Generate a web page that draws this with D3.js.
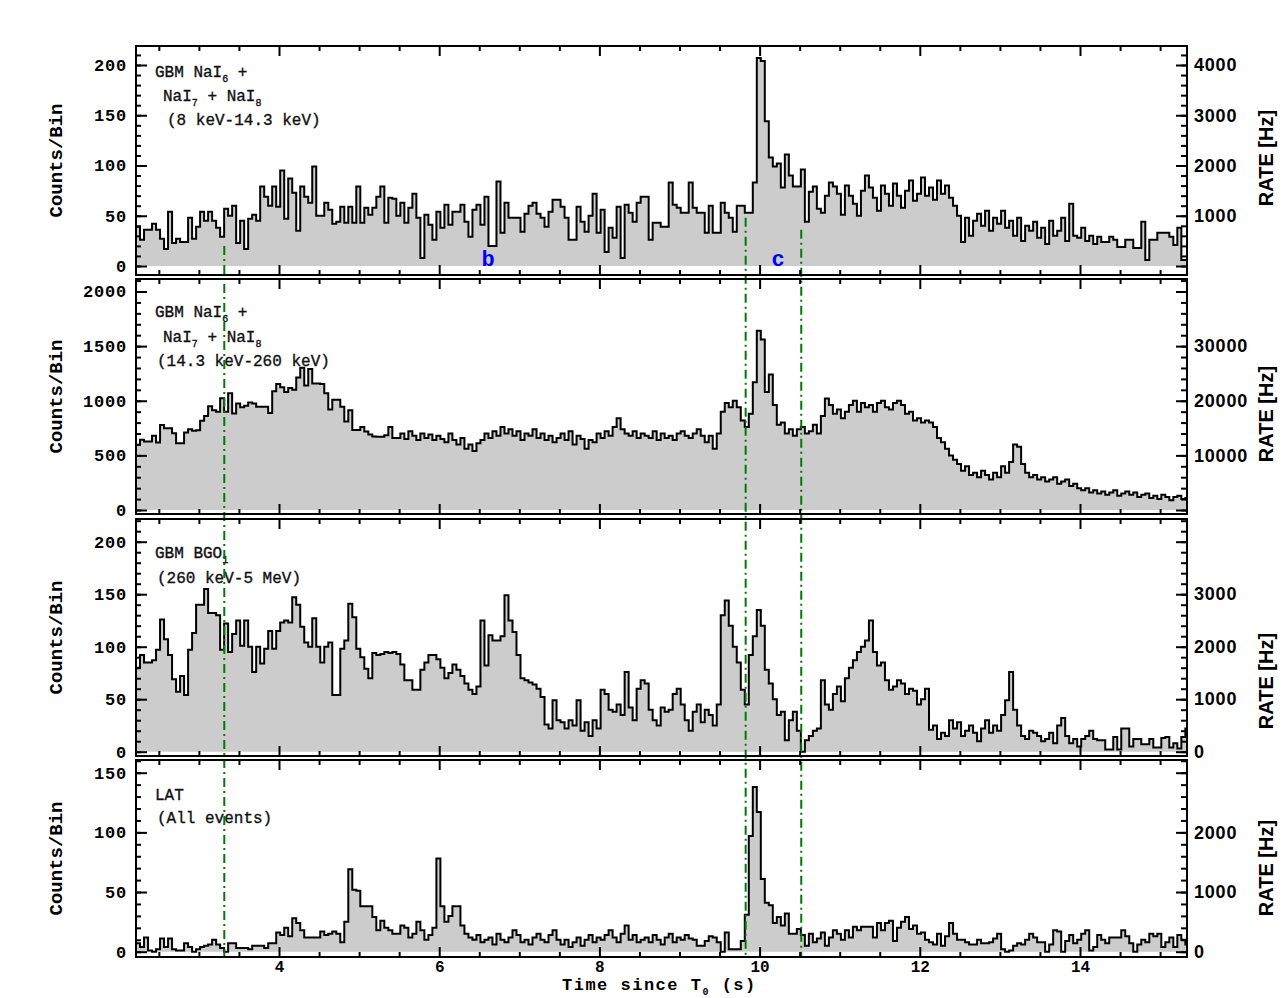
<!DOCTYPE html>
<html lang="en">
<head>
<meta charset="UTF-8">
<script src="https://d3js.org/d3.v7.min.js"></script>
<title>Light curves</title>
<style>
  body { margin: 0; background: #fff; }
  .note { font-family: "Liberation Mono", monospace; font-size: 16px; fill: #111; stroke: #111; stroke-width: 0.35px; }
  .ytitle { font-family: "Liberation Mono", monospace; font-size: 19px; font-weight: bold; }
  .rtitle { font-family: "Liberation Sans", Arial, sans-serif; font-size: 20px; font-weight: bold; }
  .xtitle { font-family: "Liberation Mono", monospace; font-size: 17px; font-weight: bold; letter-spacing: 1.5px; }
  .tag { font-family: "Liberation Mono", monospace; font-size: 22px; font-weight: bold; fill: #0000ff; }
</style>
</head>
<body>
<svg id="chart" width="1285" height="998"></svg>
<script>
// time bins (s since T0)
const binStart = 2.215;
const binWidth = 0.05;

// counts per bin, one row = 20 bins = 1 s
const naiLowCounts = [
  39, 26, 36, 36, 42, 36, 27, 17, 54, 23, 27, 24, 24, 48, 27, 39, 54, 45, 54, 45,
  38, 29, 57, 50, 60, 23, 45, 17, 47, 51, 45, 79, 69, 60, 79, 59, 95, 47, 87, 73,
  35, 79, 69, 63, 99, 50, 50, 63, 56, 42, 44, 59, 43, 59, 43, 79, 43, 58, 51, 58,
  69, 79, 43, 68, 67, 50, 63, 43, 58, 72, 48, 8, 51, 41, 26, 54, 38, 61, 41, 54,
  54, 61, 44, 29, 56, 61, 41, 69, 20, 20, 84, 33, 63, 48, 48, 48, 34, 52, 60, 63,
  52, 48, 39, 54, 66, 66, 59, 48, 26, 26, 59, 44, 34, 50, 72, 33, 56, 14, 38, 28,
  59, 8, 61, 53, 44, 63, 69, 69, 26, 43, 43, 39, 39, 83, 61, 58, 53, 53, 83, 58,
  53, 53, 33, 60, 33, 33, 63, 53, 48, 34, 60, 60, 53, 53, 83, 207, 204, 144, 108, 99,
  102, 78, 111, 90, 79, 79, 96, 44, 74, 79, 57, 53, 70, 83, 79, 72, 51, 80, 70, 62,
  50, 75, 90, 78, 68, 55, 80, 72, 60, 82, 70, 58, 75, 85, 65, 72, 88, 70, 78, 66,
  85, 72, 80, 68, 60, 50, 24, 48, 30, 45, 52, 40, 55, 35, 48, 42, 55, 38, 45, 30,
  48, 25, 40, 35, 44, 28, 38, 22, 45, 30, 35, 48, 25, 62, 30, 28, 38, 25, 30, 22,
  29, 24, 24, 29, 26, 19, 19, 26, 26, 18, 18, 44, 6, 26, 26, 33, 33, 33, 29, 21, 38, 6, 6
];

const naiHighCounts = [
  597, 642, 627, 627, 679, 618, 778, 748, 748, 703, 612, 612, 709, 739, 725, 730, 818, 860, 950, 914,
  899, 1022, 899, 1068, 884, 975, 940, 954, 984, 975, 945, 945, 945, 888, 1086, 1153, 1123, 1080, 1116, 1100,
  1213, 1303, 1140, 1290, 1159, 1159, 1153, 1068, 920, 1010, 1010, 945, 809, 914, 733, 733, 760, 718, 690, 673,
  670, 670, 685, 760, 660, 660, 700, 650, 720, 680, 640, 700, 660, 690, 640, 680, 650, 620, 700, 640,
  600, 660, 560, 600, 540, 610, 640, 700, 660, 720, 680, 760, 700, 740, 680, 720, 640, 700, 680, 740,
  660, 700, 640, 680, 620, 660, 700, 640, 720, 600, 680, 650, 560, 640, 620, 700, 660, 720, 680, 760,
  840, 740, 700, 680, 720, 660, 700, 680, 660, 720, 640, 700, 660, 680, 640, 700, 720, 680, 660, 700,
  740, 680, 620, 680, 560, 700, 900, 980, 940, 1000, 940, 820, 760, 880, 1170, 1640, 1560, 1080, 1240, 960,
  780, 800, 700, 740, 680, 740, 760, 700, 720, 780, 700, 860, 1020, 960, 880, 920, 840, 900, 960, 1000,
  900, 980, 940, 960, 900, 980, 1000, 940, 920, 980, 1000, 960, 880, 900, 820, 840, 800, 820, 800, 760,
  660, 620, 560, 500, 460, 420, 360, 400, 320, 340, 300, 360, 320, 280, 340, 300, 400, 340, 440, 600,
  580, 420, 340, 300, 320, 280, 300, 260, 280, 300, 240, 260, 280, 220, 240, 200, 180, 200, 160, 180,
  150, 170, 140, 160, 180, 130, 150, 170, 140, 160, 120, 140, 150, 110, 130, 100, 140, 120, 90, 120, 130, 100, 110
];

const bgoCounts = [
  80, 92, 85, 85, 87, 97, 126, 107, 92, 69, 57, 72, 54, 97, 113, 140, 140, 155, 132, 132,
  130, 97, 122, 95, 112, 125, 101, 125, 100, 76, 100, 84, 98, 115, 98, 115, 123, 125, 123, 147,
  140, 119, 104, 100, 127, 100, 85, 100, 104, 54, 54, 98, 106, 141, 128, 98, 90, 79, 70, 94,
  92, 93, 95, 94, 95, 93, 83, 68, 68, 59, 59, 78, 85, 92, 92, 88, 80, 70, 75, 83,
  78, 72, 65, 59, 55, 62, 125, 82, 111, 106, 106, 110, 149, 125, 114, 92, 70, 68, 66, 64,
  60, 52, 26, 22, 49, 30, 28, 22, 30, 25, 49, 20, 28, 15, 30, 22, 59, 55, 40, 38,
  45, 35, 76, 42, 30, 60, 68, 65, 40, 30, 25, 42, 38, 40, 55, 60, 45, 30, 20, 38,
  45, 28, 40, 35, 25, 45, 130, 144, 120, 100, 85, 59, 45, 92, 110, 135, 120, 78, 65, 50,
  35, 38, 11, 30, 38, 20, 0, 11, 15, 20, 22, 68, 45, 40, 55, 62, 48, 70, 80, 87,
  95, 100, 106, 125, 95, 82, 85, 68, 59, 62, 68, 65, 55, 60, 58, 45, 50, 60, 21, 25,
  12, 18, 15, 30, 22, 28, 15, 20, 25, 18, 10, 22, 30, 18, 25, 20, 35, 49, 76, 40,
  25, 15, 12, 20, 18, 15, 10, 12, 18, 8, 25, 32, 15, 8, 12, 5, 12, 15, 20, 12,
  11, 11, 2, 2, 14, 2, 22, 22, 5, 12, 12, 7, 7, 12, 4, 4, 13, 14, 4, 8, 3, 14, 22
];

const latCounts = [
  7, 4, 12, 1, 0, 2, 11, 4, 11, 2, 1, 1, 7, 4, 0, 2, 4, 5, 6, 10,
  6, 3, 0, 7, 7, 3, 3, 3, 2, 5, 5, 5, 3, 7, 7, 16, 14, 20, 13, 28,
  24, 18, 12, 12, 12, 12, 17, 14, 15, 17, 15, 8, 25, 69, 52, 51, 38, 38, 38, 29,
  18, 26, 20, 18, 15, 15, 22, 20, 12, 15, 25, 18, 10, 14, 20, 78, 38, 25, 30, 38,
  38, 22, 15, 12, 10, 14, 8, 10, 12, 6, 15, 10, 8, 12, 18, 14, 8, 10, 6, 12,
  15, 10, 8, 14, 18, 10, 6, 10, 4, 8, 12, 5, 10, 14, 8, 12, 10, 14, 18, 12,
  8, 15, 22, 10, 14, 8, 10, 12, 8, 14, 10, 6, 12, 15, 8, 12, 10, 14, 11, 10,
  5, 5, 9, 13, 12, 8, 0, 16, 2, 2, 2, 9, 31, 97, 138, 117, 61, 41, 39, 24,
  29, 22, 32, 15, 15, 19, 14, 5, 15, 8, 11, 16, 5, 12, 18, 15, 10, 18, 12, 21,
  18, 21, 21, 21, 12, 24, 18, 24, 26, 9, 20, 25, 29, 19, 22, 15, 16, 10, 8, 6,
  15, 5, 13, 24, 15, 10, 10, 8, 6, 6, 10, 7, 7, 8, 11, 15, 2, 0, 1, 5,
  7, 6, 10, 15, 12, 8, 8, 0, 6, 18, 17, 0, 9, 14, 7, 10, 15, 18, 1, 4,
  14, 10, 7, 12, 12, 12, 18, 13, 7, 0, 6, 10, 8, 15, 13, 15, 4, 8, 12, 4, 14, 10, 6
];

const xTickValues = [4, 6, 8, 10, 12, 14];
const leftTickValues = [[0, 50, 100, 150, 200], [0, 500, 1000, 1500, 2000], [0, 50, 100, 150, 200], [0, 50, 100, 150]];
const leftMinorStep = [10, 100, 10, 10];
const rightLabelValues = [[1000, 2000, 3000, 4000], [10000, 20000, 30000], [0, 1000, 2000, 3000], [0, 1000, 2000]];
const rightMajorStep = [1000, 10000, 1000, 1000];
const rightMinorStep = [200, 2000, 200, 200];

// interval markers (s) and the count level in the top panel where each one starts
const intervalTimes = [3.317, 9.826, 10.52];
const intervalTops = [20, 48, 36];
const intervalNames = ["b", "c"];
const intervalNameTimes = [6.61, 10.23];

const panelNotes = [
  [[["GBM NaI"], ["6", 1], [" +"]], [["NaI"], ["7", 1], [" + NaI"], ["8", 1]], [["(8 keV-14.3 keV)"]]],
  [[["GBM NaI"], ["6", 1], [" +"]], [["NaI"], ["7", 1], [" + NaI"], ["8", 1]], [["(14.3 keV-260 keV)"]]],
  [[["GBM BGO"], ["1", 1]], [["(260 keV-5 MeV)"]]],
  [[["LAT"]], [["(All events)"]]]
];

const series = [naiLowCounts, naiHighCounts, bgoCounts, latCounts];

// layout
const left = 136, right = 1187;
const panels = [
  { top: 46, bottom: 275, zeroY: 266, refY: 65, refVal: 200, noteX: [155, 163, 167], noteY: [77, 101, 125], rateY: 158 },
  { top: 279, bottom: 514, zeroY: 510, refY: 291.5, refVal: 2000, noteX: [155, 163, 157], noteY: [317, 342, 366], rateY: 414 },
  { top: 519, bottom: 756, zeroY: 751.7, refY: 541.7, refVal: 200, noteX: [155, 157], noteY: [558, 583], rateY: 681 },
  { top: 760, bottom: 957, zeroY: 951.7, refY: 772.7, refVal: 150, noteX: [155, 157], noteY: [800, 823], rateY: 868 }
];

const svg = d3.select("#chart");
const x = d3.scaleLinear().domain([4, 14]).range([279, 1080]);

function richText(g, px, py, parts, cls) {
  const t = g.append("text").attr("class", cls).attr("x", px).attr("y", py);
  let shifted = 0;
  parts.forEach(([s, sub]) => {
    const want = sub ? 5 : 0;
    t.append("tspan")
      .attr("dy", want - shifted)
      .attr("font-size", sub ? "10px" : null)
      .text(s);
    shifted = want;
  });
  return t;
}

const defs = svg.append("defs");
const yScales = [];

panels.forEach((p, k) => {
  const y = d3.scaleLinear().domain([0, p.refVal]).range([p.zeroY, p.refY]);
  const yRate = d3.scaleLinear().domain([0, p.refVal / binWidth]).range([p.zeroY, p.refY]);
  yScales.push(y);
  const g = svg.append("g");

  defs.append("clipPath").attr("id", "clip" + k)
    .append("rect").attr("x", left).attr("y", p.top).attr("width", right - left).attr("height", p.bottom - p.top);

  const counts = series[k];
  const pts = counts.map((c, i) => ({ t: binStart + i * binWidth, c }));
  pts.push({ t: binStart + counts.length * binWidth, c: counts[counts.length - 1] });

  const area = d3.area().curve(d3.curveStepAfter)
    .x(d => x(d.t)).y0(y(0)).y1(d => y(d.c));
  const line = d3.line().curve(d3.curveStepAfter)
    .x(d => x(d.t)).y(d => y(d.c));

  const hist = g.append("g").attr("clip-path", `url(#clip${k})`);
  hist.append("path").datum(pts).attr("d", area).attr("fill", "#cccccc");
  hist.append("path").datum(pts).attr("d", line)
    .attr("fill", "none").attr("stroke", "#000").attr("stroke-width", 2);

  // notes
  panelNotes[k].forEach((parts, j) => richText(g, p.noteX[j], p.noteY[j], parts, "note"));

  // y titles
  g.append("text").attr("class", "ytitle")
    .attr("transform", `translate(62,${(p.top + p.bottom) / 2}) rotate(-90)`)
    .attr("text-anchor", "middle").text("Counts/Bin");
  g.append("text").attr("class", "rtitle")
    .attr("transform", `translate(1273,${p.rateY}) rotate(-90)`)
    .attr("text-anchor", "middle").text("RATE [Hz]");
  p.y = y; p.yRate = yRate;
});

// interval markers
intervalTimes.forEach((t, i) => {
  svg.append("line")
    .attr("x1", x(t)).attr("x2", x(t))
    .attr("y1", yScales[0](intervalTops[i])).attr("y2", panels[3].bottom)
    .attr("stroke", "#007a00").attr("stroke-width", 2)
    .attr("stroke-dasharray", "9,4,2,4");
});
intervalNames.forEach((s, i) => {
  svg.append("text").attr("class", "tag")
    .attr("x", x(intervalNameTimes[i])).attr("y", 266)
    .attr("text-anchor", "middle").text(s);
});

// frames and axes
const xMinor = d3.range(2.5, 15.3, 0.5).filter(v => !xTickValues.includes(v));
panels.forEach((p, k) => {
  const g = svg.append("g");
  const y = p.y, yRate = p.yRate;
  const cMax = y.invert(p.top);

  const styleAxis = (sel) => {
    sel.select(".domain").remove();
    sel.selectAll("line").attr("stroke", "#000").attr("stroke-width", 2);
  };

  // left
  g.append("g").attr("transform", `translate(${left},0)`)
    .call(d3.axisLeft(y).tickValues(d3.range(0, cMax, leftMinorStep[k])).tickSize(-5).tickFormat(""))
    .call(styleAxis);
  g.append("g").attr("transform", `translate(${left},0)`)
    .call(d3.axisLeft(y).tickValues(leftTickValues[k]).tickSize(-11).tickPadding(9).tickFormat(d3.format("d")))
    .call(styleAxis)
    .attr("font-family", "Liberation Mono, monospace").attr("font-size", 17).attr("font-weight", "bold")
    .selectAll("text").attr("letter-spacing", "0.8px");

  // right (rate)
  const rMax = yRate.invert(p.top);
  g.append("g").attr("transform", `translate(${right},0)`)
    .call(d3.axisRight(yRate).tickValues(d3.range(0, rMax, rightMinorStep[k])).tickSize(-6).tickFormat(""))
    .call(styleAxis);
  g.append("g").attr("transform", `translate(${right},0)`)
    .call(d3.axisRight(yRate).tickValues(d3.range(0, rMax, rightMajorStep[k])).tickSize(-11).tickPadding(7)
      .tickFormat(d => rightLabelValues[k].includes(d) ? d : ""))
    .call(styleAxis)
    .attr("font-family", "Liberation Sans, Arial, sans-serif").attr("font-size", 18).attr("font-weight", "bold")
    .selectAll("text").attr("letter-spacing", "0.8px");

  // top/bottom time ticks
  [["top", p.top, d3.axisTop], ["bottom", p.bottom, d3.axisBottom]].forEach(([side, py, axisFn]) => {
    g.append("g").attr("transform", `translate(0,${py})`)
      .call(axisFn(x).tickValues(xMinor).tickSize(-5).tickFormat(""))
      .call(styleAxis);
    const labelled = side === "bottom" && k === panels.length - 1;
    g.append("g").attr("transform", `translate(0,${py})`)
      .call(axisFn(x).tickValues(xTickValues).tickSize(-10).tickPadding(4)
        .tickFormat(labelled ? d3.format("d") : ""))
      .call(styleAxis)
      .attr("font-family", "Liberation Mono, monospace").attr("font-size", 16).attr("font-weight", "bold");
  });

  g.append("rect").attr("x", left).attr("y", p.top)
    .attr("width", right - left).attr("height", p.bottom - p.top)
    .attr("fill", "none").attr("stroke", "#000").attr("stroke-width", 2);
});

// x title
richText(svg, 562, 990, [["Time since T"], ["0", 1], [" (s)"]], "xtitle");
</script>
</body>
</html>
